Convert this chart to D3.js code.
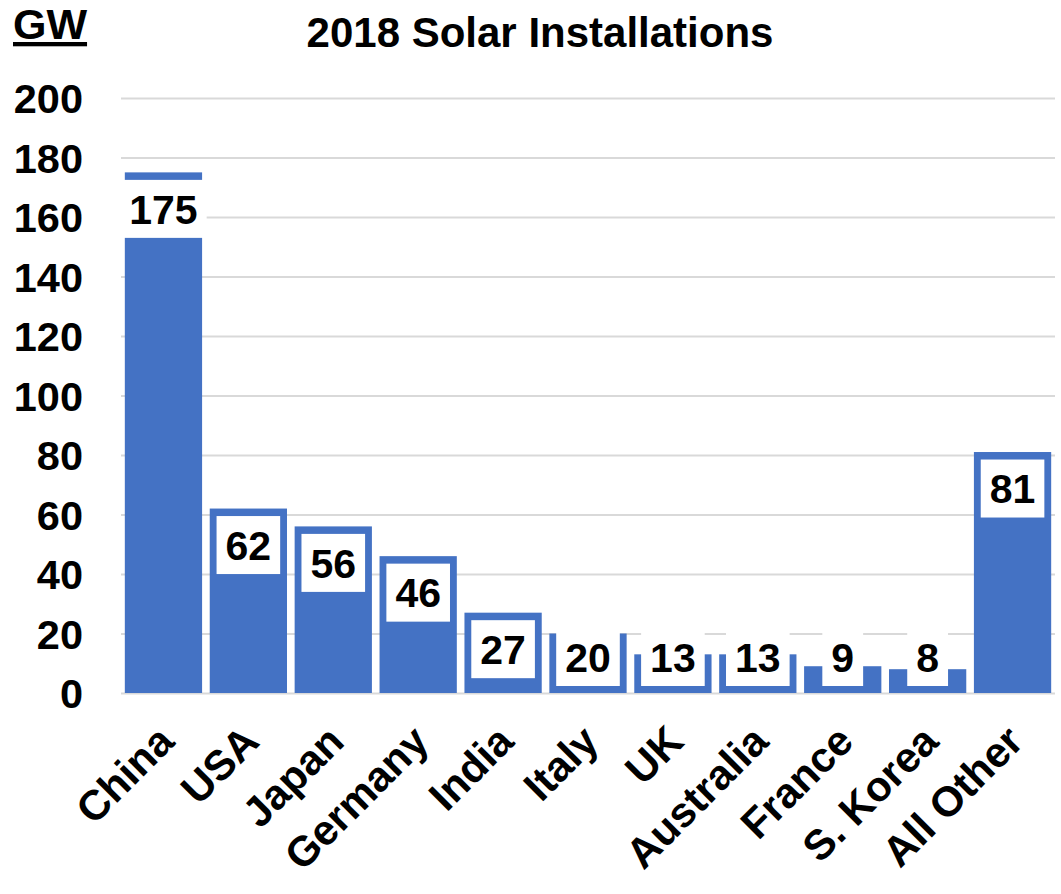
<!DOCTYPE html>
<html>
<head>
<meta charset="utf-8">
<script src="https://cdn.jsdelivr.net/npm/d3@7"></script>
<style>
  html, body { margin: 0; padding: 0; background: #fff; }
  svg { display: block; font-family: "Liberation Sans", Arial, sans-serif; font-weight: bold; }
</style>
</head>
<body>
<svg id="chart" width="1061" height="894"></svg>
<script>
// 2018 solar installations by country, GW
const countries = ["China", "USA", "Japan", "Germany", "India", "Italy", "UK", "Australia", "France", "S. Korea", "All Other"];
const capacityGW = [175, 62, 56, 46, 27, 20, 13, 13, 9, 8, 81];
const yTicks = [0, 20, 40, 60, 80, 100, 120, 140, 160, 180, 200];

const svg = d3.select("#chart");
const margin = { left: 121, right: 6, top: 98, bottom: 201 };
const W = 1061, H = 894;
const barColor = "#4472C4";

const x = d3.scaleBand()
  .domain(countries)
  .range([margin.left, W - margin.right])
  .paddingInner(0.09)
  .paddingOuter(0.045);

const y = d3.scaleLinear()
  .domain([0, 200])
  .range([H - margin.bottom, margin.top]);

// Title and unit label
svg.append("text")
  .attr("x", 540).attr("y", 47)
  .attr("text-anchor", "middle")
  .attr("font-size", 42)
  .text("2018 Solar Installations");

svg.append("text")
  .attr("x", 13).attr("y", 39)
  .attr("font-size", 43)
  .attr("text-decoration", "underline")
  .text("GW");

// Gridlines and y tick labels
const yAxis = d3.axisLeft(y).tickValues(yTicks).tickSize(0).tickPadding(0);
const gAxis = svg.append("g")
  .attr("transform", `translate(${margin.left},0)`)
  .call(yAxis);
gAxis.select(".domain").remove();
gAxis.selectAll(".tick text")
  .attr("x", -38)
  .attr("dy", "0.36em")
  .attr("font-size", 41.5)
  .attr("font-family", "Liberation Sans, Arial, sans-serif")
  .attr("font-weight", "bold")
  .attr("fill", "#000");
gAxis.selectAll(".tick line")
  .attr("x2", W - margin.right - margin.left)
  .attr("stroke", "#d9d9d9")
  .attr("stroke-width", 2);

// Bars
svg.append("g").selectAll("rect")
  .data(countries)
  .join("rect")
  .attr("x", d => x(d))
  .attr("width", x.bandwidth())
  .attr("y", (d, i) => y(capacityGW[i]))
  .attr("height", (d, i) => y(0) - y(capacityGW[i]))
  .attr("fill", barColor);

// Value labels in white boxes, inside the top of each bar
const boxH = 58, inset = 7.5, padX = 9;
const labels = svg.append("g").selectAll("g")
  .data(countries)
  .join("g");

labels.each(function (d, i) {
  const g = d3.select(this);
  const cx = x(d) + x.bandwidth() / 2;
  let top = y(capacityGW[i]) + inset;
  if (top + boxH > y(0) - 7) top = y(0) - 7 - boxH;
  const rect = g.append("rect").attr("fill", "#fff");
  const t = g.append("text")
    .attr("x", cx)
    .attr("y", top + boxH / 2)
    .attr("dy", "0.36em")
    .attr("text-anchor", "middle")
    .attr("font-size", 41)
    .text(capacityGW[i]);
  const w = t.node().getComputedTextLength() + padX * 2;
  rect.attr("x", cx - w / 2).attr("y", top).attr("width", w).attr("height", boxH);
});

// Category labels, rotated
svg.append("g").selectAll("text")
  .data(countries)
  .join("text")
  .attr("text-anchor", "end")
  .attr("font-size", 42)
  .attr("transform", d => `translate(${x(d) + x.bandwidth() / 2 - 8},${y(0) + 30}) rotate(-45)`)
  .attr("dy", "0.7em")
  .text(d => d);
</script>
</body>
</html>
